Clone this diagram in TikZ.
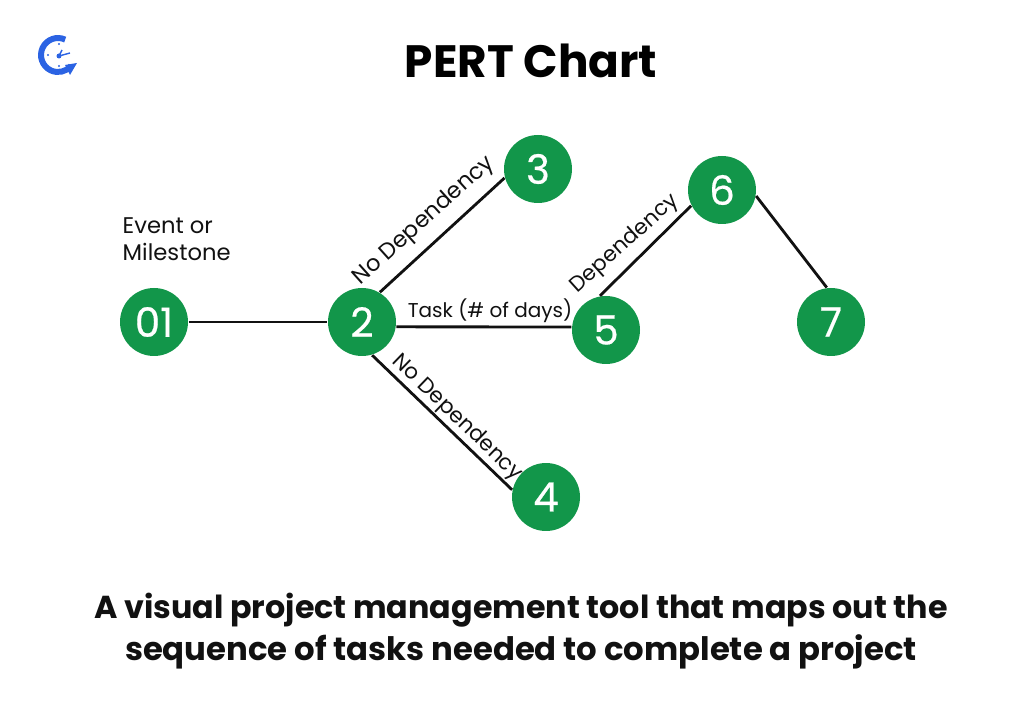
\documentclass[tikz,border=0pt]{standalone}
\usepackage{fontspec}
\setmainfont{Poppins}
\newfontfamily\eventfont[FakeBold=0.5]{Poppins}
\definecolor{eventgreen}{HTML}{12964A}
\definecolor{logoblue}{HTML}{2B63E3}
\definecolor{inkblack}{HTML}{111111}
\tikzset{
    event/.style={circle, fill=eventgreen, minimum size=0.68cm, inner sep=0pt, text=white, font=\eventfont\fontsize{11.5}{12}\selectfont},
    task/.style={draw=inkblack, line width=0.8pt},
    tasklabel/.style={inner sep=0pt, text=inkblack, font=\fontsize{6.45}{7.7}\selectfont}
}
\begin{document}
\begin{tikzpicture}
    \useasboundingbox (0, 0) rectangle (10.24, 7.21);

    % Title and caption
    \node[font=\fontsize{12.9}{14}\selectfont\bfseries, text=black] (title) at (5.31, 6.60) {PERT Chart};
    \node[font=\fontsize{9.03}{11.8}\selectfont\bfseries, text=inkblack, align=center] (caption) at (5.21, 0.90) {A visual project management tool that maps out the\\\fontsize{9.19}{11.8}\selectfont sequence of tasks needed to complete a project};

    % Logo
    \draw[logoblue, line width=1.7pt] (0.652, 6.814) arc (65:320:0.17);
    \fill[logoblue] (0.65, 6.56) -- (0.77, 6.58) -- (0.70, 6.46) -- cycle;
    \draw[logoblue, line width=0.4pt] (0.59, 6.65) -- (0.62, 6.71);
    \draw[logoblue, line width=0.4pt] (0.59, 6.65) -- (0.70, 6.68);
    \fill[logoblue] (0.59, 6.65) circle (0.025);
    \fill[logoblue] (0.59, 6.77) circle (0.012);
    \fill[logoblue] (0.48, 6.66) circle (0.012);
    \fill[logoblue] (0.59, 6.55) circle (0.012);

    % Events
    \node[event] (n1) at (1.54, 3.99) {01};
    \node[event] (n2) at (3.62, 3.99) {2};
    \node[event] (n3) at (5.38, 5.52) {3};
    \node[event] (n4) at (5.46, 2.24) {4};
    \node[event] (n5) at (6.06, 3.91) {5};
    \node[event] (n6) at (7.22, 5.31) {6};
    \node[event] (n7) at (8.31, 3.99) {7};

    % Tasks
    \draw[task] (n1) -- (n2);
    \draw[task] (n2.59) -- (n3.195);
    \draw[task] (n2.-73) -- (n4.168);
    \draw[task] (n2.-8) -- (n5.175);
    \draw[task] (n5.100) -- (n6.207);
    \draw[task] (n6.-10) -- (n7.97);

    % Labels
    \node[tasklabel, align=left, anchor=west] (milestone) at (1.22, 4.82) {Event or\\Milestone};
    \node[tasklabel, rotate=42] (nodep1) at (4.24, 5.00) {No Dependency};
    \node[tasklabel, rotate=-44, font=\fontsize{6.1}{8}\selectfont] (nodep2) at (4.57, 3.03) {No Dependency};
    \node[tasklabel, font=\fontsize{5.7}{8}\selectfont] (taskdays) at (4.90, 4.10) {Task (\# of days)};
    \node[tasklabel, rotate=42, font=\fontsize{6.1}{8}\selectfont] (dep) at (6.25, 4.77) {Dependency};
\end{tikzpicture}
\end{document}
